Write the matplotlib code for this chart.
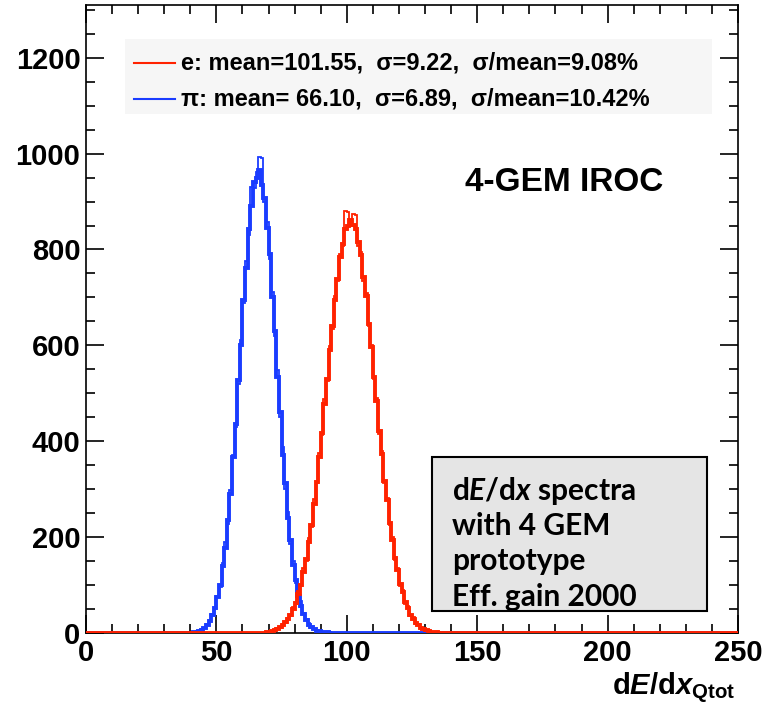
import matplotlib
matplotlib.use("Agg")
import matplotlib.pyplot as plt
import numpy as np
from matplotlib.lines import Line2D
from matplotlib.patches import Rectangle

plt.rcParams['mathtext.fontset'] = 'custom'
plt.rcParams['mathtext.rm'] = 'Lato:bold'
plt.rcParams['mathtext.it'] = 'Lato:italic:bold'
plt.rcParams['mathtext.sf'] = 'Liberation Sans:bold'
plt.rcParams['mathtext.bf'] = 'Liberation Sans:italic:bold'

# dE/dx histograms, bin width 1
pi_start = 40
pi_main = [1, 2, 3, 4, 7, 11, 17, 26, 37, 52, 75, 100, 139, 178, 236, 290, 367, 436, 527, 601,
           695, 762, 842, 890, 940, 950, 965, 935, 908, 845, 790, 700, 630, 533, 462, 372, 312, 240, 193, 142,
           110, 77, 57, 39, 28, 17, 12, 8, 5, 4, 3, 2, 2, 1, 1, 1, 1, 0, 1, 0]
pi_alt = [0, 1, 4, 3, 8, 10, 19, 24, 40, 50, 78, 96, 145, 190, 228, 298, 372, 430, 520, 612,
          688, 775, 830, 930, 928, 962, 992, 990, 900, 858, 780, 712, 620, 548, 450, 388, 300, 252, 185, 150,
          104, 82, 66, 42, 30, 20, 10, 9, 6, 4, 2, 3, 1, 2, 1, 0, 1, 1, 0, 1]

e_start = 68
e_main = [1, 2, 3, 4, 6, 8, 12, 16, 22, 29, 38, 50, 62, 82, 101, 128, 154, 190, 226, 270,
          315, 368, 418, 477, 530, 590, 640, 695, 738, 784, 812, 842, 850, 862, 852, 843, 815, 788, 742, 702,
          645, 596, 535, 483, 422, 374, 318, 277, 229, 195, 157, 131, 102, 85, 64, 52, 38, 30, 21, 17,
          11, 9, 6, 4, 3, 2, 2, 1]
e_alt = [0, 3, 2, 5, 5, 10, 11, 18, 20, 32, 36, 54, 60, 88, 98, 135, 150, 198, 222, 280,
         312, 375, 412, 488, 525, 598, 635, 702, 735, 790, 808, 880, 878, 850, 875, 872, 808, 795, 735, 710,
         640, 600, 530, 490, 415, 380, 312, 282, 225, 200, 152, 136, 98, 90, 60, 56, 35, 33, 19, 19,
         10, 11, 5, 5, 2, 3, 1, 2]

legend_labels = ["e: mean=101.55,  \u03c3=9.22,  \u03c3/mean=9.08%",
                 "\u03c0: mean= 66.10,  \u03c3=6.89,  \u03c3/mean=10.42%"]

RED = "#ff2200"
BLUE = "#1a3cff"
XMAX = 250


def full_hist(start, vals):
    out = np.zeros(XMAX)
    out[start:start + len(vals)] = vals
    return out


fig = plt.figure(figsize=(7.72, 7.11), dpi=100)
ax = fig.add_axes([86 / 772, 78 / 711, 652 / 772, 628 / 711])

edges = np.arange(XMAX + 1)
pe = np.arange(pi_start, pi_start + len(pi_alt) + 1)
ee = np.arange(e_start, e_start + len(e_alt) + 1)

ax.stairs(pi_alt, pe, baseline=None, color=BLUE, lw=1.3, zorder=2)
ax.stairs(full_hist(pi_start, pi_main), edges, baseline=None, color=BLUE, lw=2.8, zorder=3)
ax.stairs(e_alt, ee, baseline=None, color=RED, lw=1.3, zorder=4)
ax.stairs(full_hist(e_start, e_main), edges, baseline=None, color=RED, lw=2.8, zorder=5)

ax.set_xlim(0, XMAX)
ax.set_ylim(0, 1310)
ax.set_xticks(np.arange(0, 251, 50))
ax.set_xticks(np.arange(0, 251, 10), minor=True)
ax.set_yticks(np.arange(0, 1201, 200))
ax.set_yticks(np.arange(0, 1301, 50), minor=True)
ax.tick_params(which='both', direction='in', top=True, right=True, width=1.2, color='black')
ax.tick_params(which='major', length=13, labelsize=21, pad=4)
ax.tick_params(which='minor', length=6.5)
for lab in ax.get_xticklabels() + ax.get_yticklabels():
    lab.set_fontfamily('Liberation Sans')
    lab.set_fontweight('bold')
for s in ax.spines.values():
    s.set_linewidth(1.2)

# legend
ax.add_patch(Rectangle((0.06, 0.826), 0.9, 0.12, transform=ax.transAxes,
                       facecolor='#f6f6f6', edgecolor='none', zorder=1))
for i, (lab, col) in enumerate(zip(legend_labels, [RED, BLUE])):
    yy = 0.908 - i * 0.057
    ax.add_line(Line2D([0.073, 0.136], [yy, yy], transform=ax.transAxes, color=col, lw=1.5, zorder=6))
    ax.text(0.145, yy, lab, transform=ax.transAxes, fontsize=17, fontweight='bold',
            family='Liberation Sans', va='center', ha='left', zorder=6)

ax.text(0.733, 0.717, "4-GEM IROC", transform=ax.transAxes, fontsize=24, fontweight='bold',
        family='Liberation Sans', ha='center', va='center')

# annotation box
ax.add_patch(Rectangle((0.531, 0.035), 0.421, 0.245, transform=ax.transAxes,
                       facecolor='#e5e5e5', edgecolor='black', lw=1.5, zorder=6))
box_lines = [r"d$\mathit{E}$/d$\mathit{x}$ spectra", "with 4 GEM", "prototype", "Eff. gain 2000"]
for i, t in enumerate(box_lines):
    ax.text(0.562, 0.226 - i * 0.056, t, transform=ax.transAxes, fontsize=21.5,
            family='Lato', fontweight='bold', ha='left', va='center', zorder=7)

ax.text(0.995, -0.088, r"$\mathsf{d}\mathbf{E}\mathsf{/d}\mathbf{x}_{\mathsf{Qtot}}$", transform=ax.transAxes,
        fontsize=21, ha='right', va='center')

fig.savefig("out.png", dpi=100)
